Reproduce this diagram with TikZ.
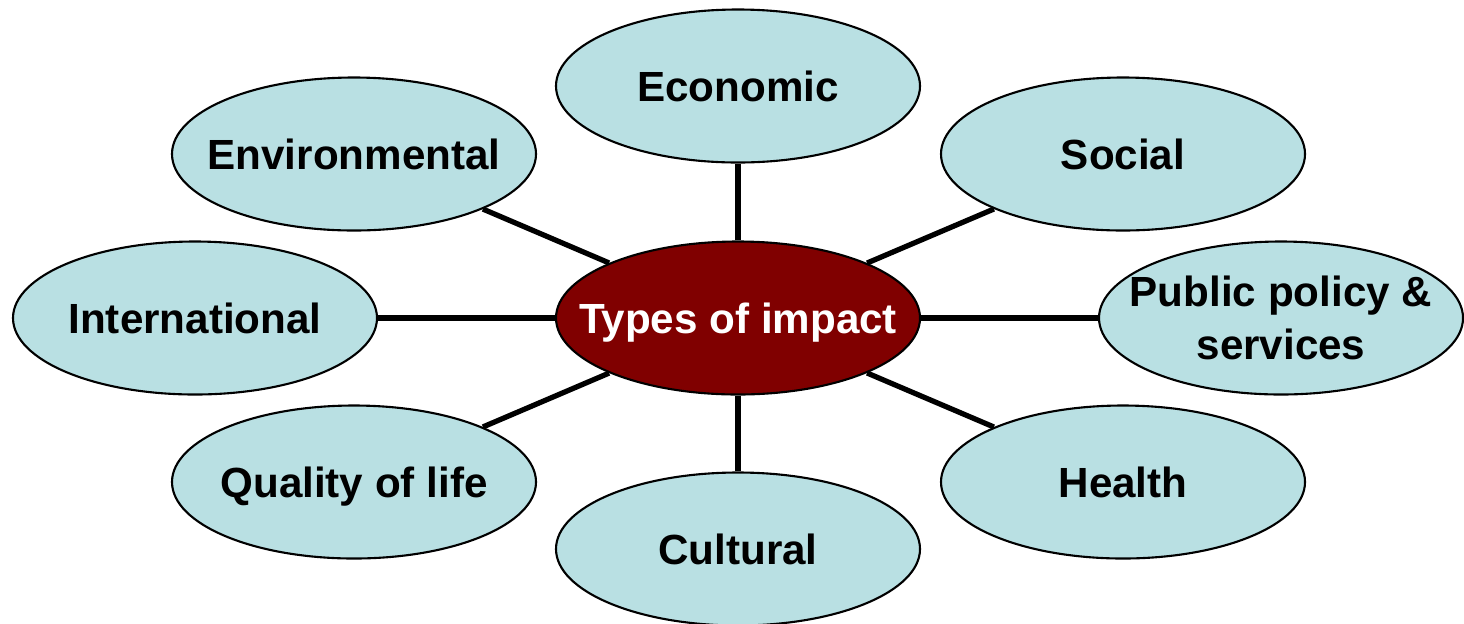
\documentclass[tikz,border=0pt]{standalone}
\usepackage{fontspec}
\setmainfont{Liberation Sans}
\usetikzlibrary{shapes.geometric}
\definecolor{bubblefill}{RGB}{185,224,227}
\definecolor{hubred}{RGB}{128,0,0}

\begin{document}
\begin{tikzpicture}
\tikzstyle{bubble}=[draw,shape=ellipse,fill=bubblefill,line width=0.6pt,minimum width=3.64cm,minimum height=1.53cm,inner xsep=-0.4cm,inner ysep=0pt,align=center,font=\fontsize{12}{15}\selectfont\bfseries]
\tikzstyle{word}=[bubble,text height=8.6pt,text depth=0pt]
\tikzstyle{hub}=[word,fill=hubred,text=white]
\tikzstyle{spoke}=[line width=1.5pt]
\useasboundingbox (0,0) rectangle (14.64,-6.23);
\path (7.38,-3.18) node[hub](cen){Types of impact};
\path (7.38,-0.86) node[word](eco){Economic};
\path (3.54,-1.54) node[word](env){Environmental};
\path (11.23,-1.54) node[word](soc){Social};
\path (1.95,-3.18) node[word](int){International};
\path (12.81,-3.18) node[bubble](pub){Public policy \&\\services};
\path (3.54,-4.82) node[word](qol){Quality of life};
\path (11.23,-4.82) node[word](hea){Health};
\path (7.38,-5.49) node[word](cul){Cultural};
\draw[spoke] (cen) -- (eco);
\draw[spoke] (cen) -- (env);
\draw[spoke] (cen) -- (soc);
\draw[spoke] (cen) -- (int);
\draw[spoke] (cen) -- (pub);
\draw[spoke] (cen) -- (qol);
\draw[spoke] (cen) -- (hea);
\draw[spoke] (cen) -- (cul);
\end{tikzpicture}
\end{document}
